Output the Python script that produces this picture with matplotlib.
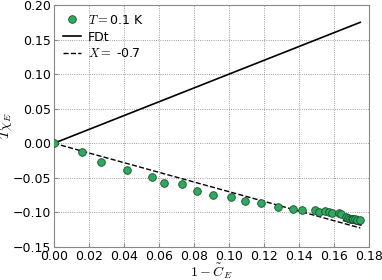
import numpy as np
import matplotlib
matplotlib.use("Agg")
import matplotlib.pyplot as plt

plt.rcParams['mathtext.fontset'] = 'cm'

# data
one_minus_C = [0.0, 0.0158, 0.0267, 0.0417, 0.056, 0.063, 0.0733, 0.0817, 0.091,
               0.101, 0.109, 0.1185, 0.128, 0.1364, 0.142, 0.149, 0.1516, 0.155,
               0.157, 0.159, 0.163, 0.164, 0.167, 0.168, 0.169, 0.170, 0.171,
               0.172, 0.173, 0.1749]
T_chi = [0.0, -0.013, -0.027, -0.038, -0.049, -0.058, -0.059, -0.069, -0.075,
         -0.078, -0.083, -0.087, -0.092, -0.095, -0.096, -0.096, -0.099, -0.098,
         -0.100, -0.101, -0.101, -0.103, -0.106, -0.108, -0.109, -0.109, -0.110,
         -0.110, -0.111, -0.111]
tail_x = [0.166, 0.175]
tail_y = [-0.111, -0.117]

X = -0.7
x_line = np.array([0.0, 0.175])

plt.figure(figsize=(3.82, 2.80), dpi=100)
ax = plt.axes([0.141, 0.118, 0.825, 0.864])
ax.plot(one_minus_C, T_chi, 'o', color='#2eaa5e', mec='#1a4d2e', mew=0.6,
        ms=5.5, label='$T=$0.1 K', zorder=3)
ax.plot(x_line, x_line, color='black', lw=1.2, label='FDt')
ax.plot(x_line, X * x_line, '--', color='black', lw=1.0, label='$X=$ -0.7')
ax.plot(tail_x, tail_y, color='black', lw=2.2, zorder=2)

ax.set_xlim(0, 0.18)
ax.set_ylim(-0.15, 0.20)
ax.set_xticks(np.arange(0, 0.181, 0.02))
ax.set_yticks(np.arange(-0.15, 0.201, 0.05))
ax.tick_params(labelsize=9, direction='in', length=3, color='#888888', pad=2)
ax.grid(color='gray', linestyle=':', linewidth=0.6)
for s in ax.spines.values():
    s.set_color('#888888')
ax.set_xlabel(r'$1-\tilde{C}_E$', fontsize=10)
ax.set_ylabel(r'$T\tilde{\chi}_E$', fontsize=10)
ax.xaxis.set_label_coords(0.5, -0.058)
ax.yaxis.set_label_coords(-0.122, 0.5)
ax.legend(loc='upper left', frameon=False, fontsize=9, numpoints=1,
          handlelength=1.5, handletextpad=0.5, borderaxespad=0.3,
          labelspacing=0.3)
plt.savefig('out.png', dpi=100)
